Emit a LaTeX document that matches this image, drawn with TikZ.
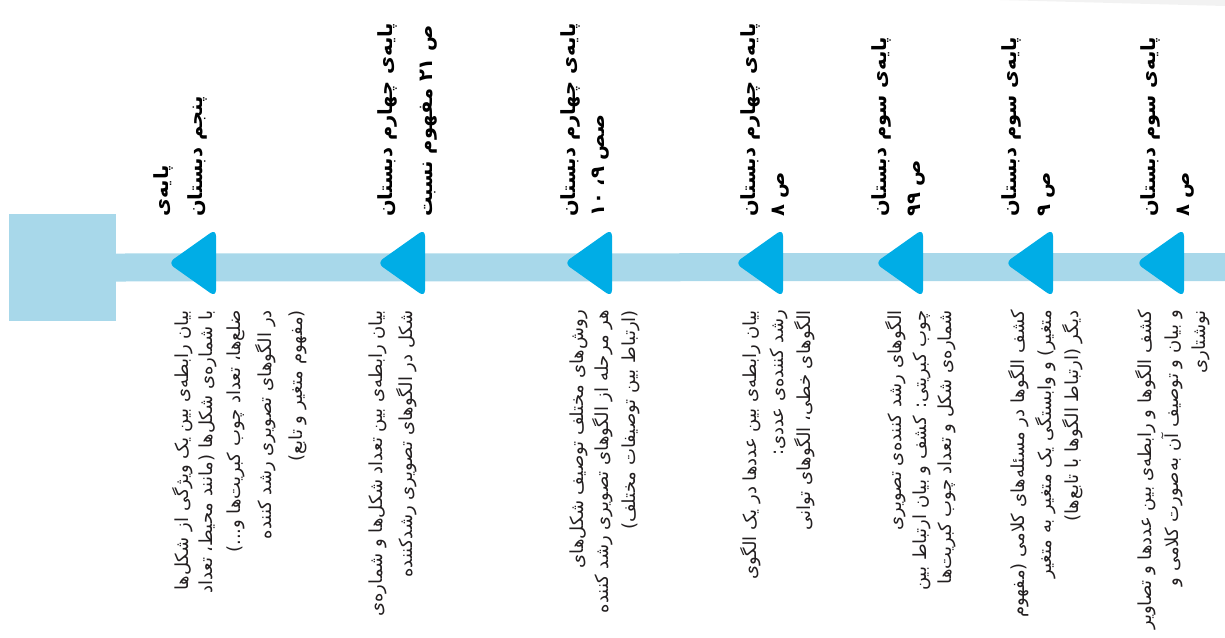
\documentclass[tikz,border=0pt]{standalone}
\usepackage{fontspec}
\newfontfamily\arabicfont[Script=Arabic]{DejaVu Sans}
\TeXXeTstate=1
\newcommand\fa[1]{\beginR #1\endR}
\definecolor{barblue}{HTML}{A8D8EA}
\definecolor{markblue}{HTML}{00ADE6}
\definecolor{bodytext}{HTML}{231F20}
\begin{document}
\begin{tikzpicture}[x=1pt,y=-1pt,
  header/.style={rotate=90, anchor=north west, align=left, inner sep=0pt,
    font=\arabicfont\bfseries\fontsize{19.5}{34}\selectfont},
  body/.style={rotate=90, anchor=north east, align=right, inner sep=0pt,
    text=bodytext, font=\arabicfont\fontsize{18}{27}\selectfont},
  marker/.style={fill=markblue, rounded corners=7pt},
  bar/.style={draw=barblue, line width=28pt}]
\useasboundingbox (0,0) rectangle (1225,637);
\fill[black!5] (1000,0) -- (1225,0) -- (1225,6) -- cycle;
% square and bar
\node[fill=barblue, minimum width=107pt, minimum height=107pt, inner sep=0pt] (sq) at (62.5,267.5) {};
\coordinate (barend) at (1225,267);
\draw[bar] (sq.east) -- (barend);
% markers
\foreach \x in {168,377,564,735,875,1005,1136}
  \fill[marker] (\x+48,229) -- (\x,263) -- (\x+48,297) -- cycle;
% headers
\node[header] (h1) at (153,217) {\fa{پایه‌ی}\\\fa{پنجم دبستان}};
\node[header] (h2) at (377,217) {\fa{پایه‌ی چهارم دبستان}\\[6pt]\fa{ص ۲۱ مفهوم نسبت}};
\node[header] (h3) at (560,217) {\fa{پایه‌ی چهارم دبستان}\\[-5pt]\fa{صص ۹، ۱۰}};
\node[header] (h4) at (740,217) {\fa{پایه‌ی چهارم دبستان}\\[-5pt]\fa{ص ۸}};
\node[header] (h5) at (871,217) {\fa{پایه‌ی سوم دبستان}\\\fa{ص ۹۹}};
\node[header] (h6) at (1001,217) {\fa{پایه‌ی سوم دبستان}\\\fa{ص ۹}};
\node[header] (h7) at (1140,217) {\fa{پایه‌ی سوم دبستان}\\\fa{ص ۸}};
% bodies
\node[body] (b1) at (172,310) {\fa{بیان رابطه‌ی بین یک ویژگی از شکل‌ها}\\[-3pt]\fa{با شماره‌ی شکل‌ها (مانند محیط، تعداد}\\[1pt]\fa{ضلع‌ها، تعداد چوب کبریت‌ها و...)}\\[4pt]\fa{در الگوهای تصویری رشد کننده}\\[4pt]\fa{(مفهوم متغیر و تابع)}};
\node[body] (b2) at (369,310) {\fa{بیان رابطه‌ی بین تعداد شکل‌ها و شماره‌ی}\\[3pt]\fa{شکل در الگوهای تصویری رشدکننده}};
\node[body] (b3) at (570,310) {\fa{روش‌های مختلف توصیف شکل‌های}\\[-2pt]\fa{هر مرحله از الگوهای تصویری رشد کننده}\\\fa{(ارتباط بین توصیفات مختلف)}};
\node[body] (b4) at (740,310) {\fa{بیان رابطه‌ی بین عددها در یک الگوی}\\\fa{رشد کننده‌ی عددی:}\\\fa{الگوهای خطی، الگوهای توانی}};
\node[body] (b5) at (885,310) {\fa{الگوهای رشد کننده‌ی تصویری}\\[-2pt]\fa{چوب کبریتی: کشف و بیان ارتباط بین}\\[-2pt]\fa{شماره‌ی شکل و تعداد چوب کبریت‌ها}};
\node[body] (b6) at (1008,310) {\fa{کشف الگوها در مسئله‌های کلامی (مفهوم}\\\fa{متغیر) و وابستگی یک متغیر به متغیر}\\\fa{دیگر (ارتباط الگوها با تابع‌ها)}};
\node[body] (b7) at (1135,310) {\fa{کشف الگوها و رابطه‌ی بین عددها و تصاویر}\\\fa{و بیان و توصیف آن به‌صورت کلامی و}\\\fa{نوشتاری}};
\end{tikzpicture}
\end{document}
